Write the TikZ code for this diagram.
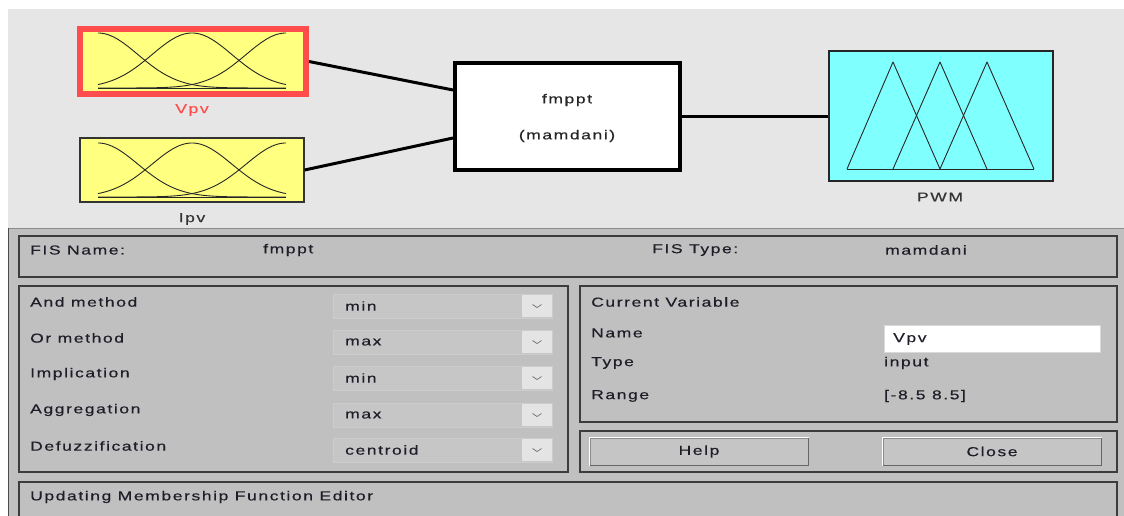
\documentclass[tikz,border=0pt]{standalone}
\usepackage{fontspec}
\setmainfont{Liberation Sans}[FakeStretch=1.35,LetterSpace=12,FakeBold=0.4]
\usetikzlibrary{calc}
\definecolor{topbg}{HTML}{E6E6E6}
\definecolor{botbg}{HTML}{C0C0C0}
\definecolor{pnl}{HTML}{3C3C3C}
\definecolor{txt}{HTML}{1E1E28}
\definecolor{mfyellow}{HTML}{FFFF80}
\definecolor{mfred}{HTML}{FF4D4D}
\definecolor{mfcyan}{HTML}{80FFFF}
\definecolor{ddfill}{HTML}{C6C6C6}
\definecolor{ddbtn}{HTML}{E4E4E4}
\newcommand{\uifont}{\fontsize{13}{15}\selectfont}
\begin{document}
\begin{tikzpicture}[x=1pt,y=-1pt,
  lbl/.style={anchor=west,inner sep=0pt,text=txt,font=\uifont},
  ctr/.style={inner sep=0pt,text=txt,font=\uifont},
  panel/.style={draw=pnl,line width=1.5pt,fill=botbg,inner sep=0pt},
  mfbox/.style={inner sep=0pt,fill=mfyellow},
  curve/.style={draw=black!85,line width=0.9pt},
  conn/.style={draw=black,line width=3pt},
  dd/.style={fill=ddfill,draw=ddfill!90!white,line width=1pt,inner sep=0pt,minimum width=219pt,minimum height=24pt},
  ddb/.style={fill=ddbtn,inner sep=0pt,minimum width=30pt,minimum height=22pt},
  chev/.style={draw=black!55,line width=0.7pt},
  btn/.style={fill=botbg!92!white,draw=black!45,line width=1pt,inner sep=0pt,minimum width=218pt,minimum height=27pt,text=txt,font=\uifont}
]
\useasboundingbox (0,0) rectangle (1124,516);
\fill[white] (0,0) rectangle (1124,516);
% top panel
\fill[topbg] (8,9) rectangle (1124,228);
% bottom area
\fill[botbg] (8,228) rectangle (1124,516);
\draw[black!45,line width=1.5pt] (8,228.5) -- (1124,228.5);
\draw[black!70,line width=1.5pt] (8.5,228) -- (8.5,516);

% ---------- top diagram ----------
\node[mfbox,draw=mfred,line width=6pt,minimum width=226pt,minimum height=65pt] (vpv) at (193,61.5) {};
\node[mfbox,draw=black!80,line width=1.2pt,minimum width=224pt,minimum height=64pt] (ipv) at (192,170) {};
\node[fill=white,draw=black,line width=4pt,inner sep=0pt,minimum width=225pt,minimum height=107pt] (fis) at (567.5,116.5) {};
\node[fill=mfcyan,draw=black!85,line width=2pt,inner sep=0pt,minimum width=224pt,minimum height=130pt] (pwm) at (941,116) {};

\node[ctr,text=mfred] (vpvlbl) at (192,110) {Vpv};
\node[ctr,text=black!80] (ipvlbl) at (192,219) {Ipv};
\node[ctr,text=black!85] (fisname) at (567,100) {fmppt};
\node[ctr,text=black!85] (fistype) at (567,136) {(mamdani)};
\node[ctr,text=black!80] (pwmlbl) at (940,197) {PWM};

\draw[conn] (vpv.east) -- ([yshift=26.5pt]fis.west);
\draw[conn] (ipv.east) -- ([yshift=-21.5pt]fis.west);
\draw[conn,line width=2.5pt] (fis.east) -- (fis.east -| pwm.west);

% gaussian MFs
\foreach \c in {98,192,286}{
  \draw[curve] plot[domain=98:286,samples=90,smooth] (\x,{88-55*exp(-0.5*((\x-\c)/40)^2)});
  \draw[curve] plot[domain=98:286,samples=90,smooth] (\x,{197-54*exp(-0.5*((\x-\c)/40)^2)});
}
\draw[curve] (98,88) -- (286,88);
\draw[curve] (98,197) -- (286,197);
% triangular MFs
\draw[curve,line join=round] (847,169) -- (893,62) -- (940,169) -- (987,62) -- (1034,169);
\draw[curve,line join=round] (893,169) -- (940,62) -- (987,169);
\draw[curve] (847,169) -- (1034,169);

% ---------- bottom panels ----------
\node[panel,minimum width=1098pt,minimum height=41pt] (fisbox) at (568,256.5) {};
\node[panel,minimum width=549pt,minimum height=186pt] (methods) at (293.5,379) {};
\node[panel,minimum width=537pt,minimum height=136pt] (curvar) at (848.5,354) {};
\node[panel,minimum width=537pt,minimum height=41pt] (btnpanel) at (848.5,451.5) {};
\node[panel,minimum width=1098pt,minimum height=38pt] (status) at (568,501) {};

\node[lbl] (fisnamelbl) at (30,250) {FIS Name:};
\node[lbl] (fisnameval) at (263,250) {fmppt};
\node[lbl] (fistypelbl) at (652,250) {FIS Type:};
\node[lbl] (fistypeval) at (885,250) {mamdani};

\foreach \i/\lab/\val/\ly/\dy in {1/And method/min/302/306, 2/Or method/max/338/342, 3/Implication/min/374/378, 4/Aggregation/max/410/415, 5/Defuzzification/centroid/446/450}{
  \node[lbl] (mlab\i) at (30,\ly) {\lab};
  \node[dd] (dd\i) at (442.5,\dy) {};
  \node[ddb] (ddb\i) at (537,\dy) {};
  \node[lbl] (ddv\i) at (345,\dy) {\val};
  \draw[chev] ([xshift=-4.5pt,yshift=1.5pt]ddb\i.center) -- ([yshift=-1.5pt]ddb\i.center) -- ([xshift=4.5pt,yshift=1.5pt]ddb\i.center);
}

\node[lbl] (cvtitle) at (591,302) {Current Variable};
\node[lbl] (namelbl) at (591,333) {Name};
\node[fill=white,draw=white!85!black,line width=0.8pt,inner sep=0pt,minimum width=216pt,minimum height=27pt] (namefield) at (992,338.5) {};
\node[lbl] (nameval) at (893,339) {Vpv};
\node[lbl] (typelbl) at (591,363) {Type};
\node[lbl] (typeval) at (884,363) {input};
\node[lbl] (rangelbl) at (591,396) {Range};
\node[lbl] (rangeval) at (884,396) {[-8.5 8.5]};

\node[btn] (help) at (699,451.5) {Help};
\node[btn] (close) at (992,451.5) {Close};
\foreach \b in {help,close}{
  \draw[white,line width=1.2pt] (\b.south west) -- (\b.north west) -- (\b.north east);
  \draw[black!60,line width=1.2pt] (\b.north east) -- (\b.south east) -- (\b.south west);
}

\node[lbl] (statusmsg) at (30,497) {Updating Membership Function Editor};
\end{tikzpicture}
\end{document}
